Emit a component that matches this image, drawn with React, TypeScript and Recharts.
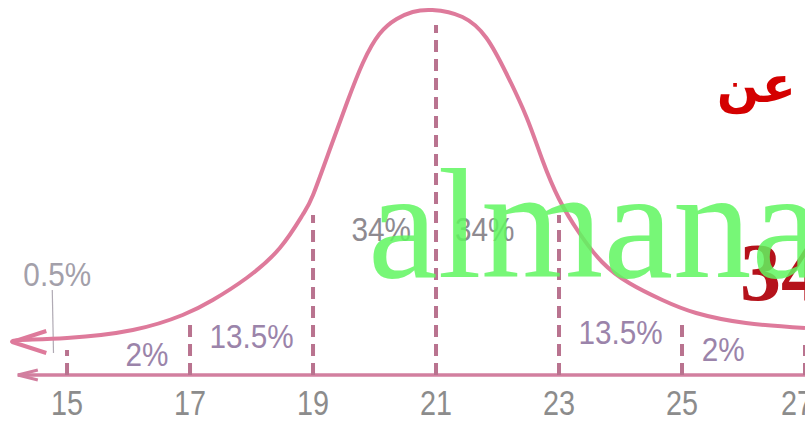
import React from 'react';
import { LineChart, Line, XAxis, YAxis, ReferenceLine, ReferenceDot } from 'recharts';

// curve: x value, height above the axis
const curveX = [14.11, 14.24, 15.0, 16.07, 16.88, 17.37, 17.92, 18.46, 18.83, 19.0, 19.27, 19.55, 19.81, 20.08, 20.36, 20.62, 20.94, 21.43, 21.82, 22.14, 22.47, 22.73, 23.0, 23.33, 23.7, 24.14, 24.68, 25.23, 26.04, 27.0];
const curveH = [33, 35, 37, 45, 60, 75, 97, 127, 160, 180, 225, 272, 312, 341, 356, 363, 365, 358, 337, 302, 258, 215, 176, 142, 113, 92, 75, 62, 52, 47];

const tickValues = [15, 17, 19, 21, 23, 25, 27];
// dashed dividers: where each stops
const dividerX = [15, 17, 19, 21, 23, 25, 27];
const dividerTop = [25, 52, 160, 350, 160, 55, 30];

const pctText = ['0.5%', '2%', '13.5%', '34%', '34%', '13.5%', '2%'];
const pctX = [14.84, 16.3, 18.0, 20.11, 21.79, 24.0, 25.67];
const pctY = [100, 20, 38, 145, 145, 42, 25];
const pctColor = ['#a3a0aa', '#9b84aa', '#9b84aa', '#8e8a90', '#8e8a90', '#9b84aa', '#9b84aa'];

const data = curveX.map((x, i) => ({ x, h: curveH[i] }));

const CURVE = '#de7a9b';
const DASH = '#b9738f';
const AXIS = '#d27f9f';
const SANS = "'Liberation Sans', Arial, sans-serif";

const CurveArrow = (p: any) => {
    if (p.index !== 0) return <g key={`d${p.index}`} />;
    const { cx, cy } = p;
    return (
        <path
            key="arrow"
            d={`M${cx + 34},${cy - 11} L${cx},${cy} L${cx + 34},${cy + 11}`}
            fill="none"
            stroke={CURVE}
            strokeWidth={4}
            strokeLinejoin="round"
        />
    );
};

const AxisLine = (p: any) => {
    const { x1, y1, x2, y2 } = p;
    return (
        <g>
            <line x1={x1} y1={y1} x2={x2} y2={y2} stroke={AXIS} strokeWidth={3.5} />
            <path d={`M${x1 + 20},${y1 - 5} L${x1},${y1} L${x1 + 20},${y1 + 5}`} fill="none" stroke={AXIS} strokeWidth={3} />
        </g>
    );
};

// the tick digits in the picture are condensed
const Tick = (p: any) => (
    <text transform={`translate(${p.x},${p.y + 32}) scale(0.8,1)`} textAnchor="middle" fill="#8c8c8c" fontSize={36} fontFamily={SANS}>
        {p.payload.value}
    </text>
);

export default function App() {
    return (
        <div style={{ position: 'fixed', top: 0, left: 0, width: 805, height: 426, background: '#fff', overflow: 'hidden' }}>
            <LineChart width={805} height={426} data={data} margin={{ top: 0, right: 0, left: 0, bottom: 0 }}>
                <XAxis
                    type="number"
                    dataKey="x"
                    domain={[13.91, 27]}
                    ticks={tickValues}
                    height={51}
                    axisLine={false}
                    tickLine={false}
                    tick={Tick}
                    allowDataOverflow
                />
                <YAxis hide domain={[0, 375]} allowDataOverflow />
                <ReferenceLine segment={[{ x: 14.2, y: 0 }, { x: 27, y: 0 }]} shape={AxisLine} ifOverflow="visible" />
                {dividerX.map((x, i) => (
                    <ReferenceLine
                        key={`v${i}`}
                        segment={[{ x, y: 0 }, { x, y: dividerTop[i] }]}
                        stroke={DASH}
                        strokeWidth={4}
                        strokeDasharray="12 7"
                        ifOverflow="visible"
                    />
                ))}
                <ReferenceLine segment={[{ x: 14.76, y: 85 }, { x: 14.78, y: 22 }]} stroke="#b0aab4" strokeWidth={1.2} ifOverflow="visible" />
                {pctText.map((t, i) => (
                    <ReferenceDot
                        key={`p${i}`}
                        x={pctX[i]}
                        y={pctY[i]}
                        r={0}
                        ifOverflow="visible"
                        shape={(p: any) => (
                            <text transform={`translate(${p.cx},${p.cy + 11}) scale(0.9,1)`} textAnchor="middle" fill={pctColor[i]} fontSize={33} fontFamily={SANS}>
                                {t}
                            </text>
                        )}
                    />
                ))}
                <Line type="natural" dataKey="h" stroke={CURVE} strokeWidth={4} dot={CurveArrow} activeDot={false} isAnimationActive={false} />
            </LineChart>
            <svg width={805} height={426} style={{ position: 'absolute', top: 0, left: 0, pointerEvents: 'none' }}>
                <text x={796} y={102} textAnchor="end" fill="#d40000" fontSize={50} fontWeight="bold" fontFamily="'DejaVu Sans', sans-serif">عن</text>
                <text x={740} y={300} fill="#b5121b" fontSize={82} fontWeight="bold" fontFamily="'Liberation Serif', serif">34</text>
                <text x={368} y={277} fill="#5ff65f" fillOpacity={0.85} fontSize={157} fontFamily="'Liberation Serif', serif">almana</text>
            </svg>
        </div>
    );
}
